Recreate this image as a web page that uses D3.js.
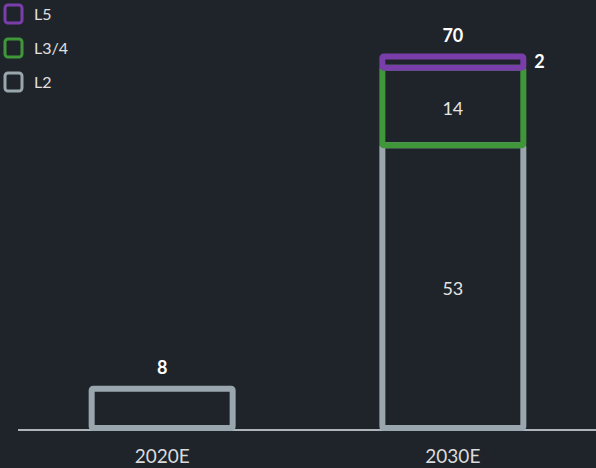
<!DOCTYPE html>
<html>
<head>
<meta charset="utf-8">
<script src="https://cdn.jsdelivr.net/npm/d3@7"></script>
<style>
	html, body { margin: 0; padding: 0; background: #1f242a; }
	svg { display: block; }
</style>
</head>
<body>
<svg id="chartSvg" width="596" height="468"></svg>
<script>
//data
var years = ['2020E', '2030E'];
var seriesNames = ['L2', 'L3/4', 'L5'];
var l2Values = [7.4, 53.2];
var l34Values = [0, 14.6];
var l5Values = [0, 2.1];
var totalLabels = ['8', '70'];
var l2Labels = ['', '53'];
var l34Labels = ['', '14'];
var l5Labels = ['', '2'];

var colors = { 'L2': '#9aa6ad', 'L3/4': '#3f973a', 'L5': '#7a3eaa' };
var fontFam = 'Lato, "Open Sans", sans-serif';

document.addEventListener('DOMContentLoaded', function() {
	var svg = d3.select('#chartSvg');

	//scales
	var x = d3.scaleBand()
		.domain(years)
		.range([19, 596])
		.paddingInner(0.515)
		.paddingOuter(0.25);
	var y = d3.scaleLinear()
		.domain([0, 70])
		.range([428, 56]);

	//stack the series
	var rows = years.map((yr, i) => ({ year: yr, 'L2': l2Values[i], 'L3/4': l34Values[i], 'L5': l5Values[i] }));
	var stacked = d3.stack().keys(seriesNames)(rows);

	//axis line + tick labels
	svg.append('line')
		.attr('x1', 18).attr('x2', 596)
		.attr('y1', 430).attr('y2', 430)
		.style('stroke', '#aeb5ba')
		.style('stroke-width', 2);

	var xAxis = svg.append('g')
		.attr('transform', 'translate(0,430)')
		.call(d3.axisBottom(x).tickSize(0).tickPadding(20));
	xAxis.select('.domain').remove();
	xAxis.selectAll('text')
		.style('fill', '#dadbdc')
		.style('font-family', fontFam)
		.style('font-size', '19px');

	//bars
	stacked.forEach(function(layer) {
		svg.selectAll('.seg-' + layer.index)
			.data(layer.filter(d => d[1] - d[0] > 0))
			.join('rect')
			.attr('class', 'seg-' + layer.index)
			.attr('x', d => x(d.data.year))
			.attr('width', x.bandwidth())
			.attr('y', d => y(d[1]))
			.attr('height', d => y(d[0]) - y(d[1]))
			.attr('rx', 1.5)
			.style('fill', 'none')
			.style('stroke', colors[layer.key])
			.style('stroke-width', 6);
	});

	//segment labels inside
	var inner = [
		{ layer: stacked[0], labels: l2Labels },
		{ layer: stacked[1], labels: l34Labels }
	];
	inner.forEach(function(s) {
		svg.selectAll(null)
			.data(s.layer.map((d, i) => ({ d: d, t: s.labels[i] })).filter(o => o.t !== ''))
			.join('text')
			.attr('x', o => x(o.d.data.year) + x.bandwidth() / 2)
			.attr('y', o => (y(o.d[0]) + y(o.d[1])) / 2 + 2)
			.attr('dy', '0.35em')
			.style('text-anchor', 'middle')
			.style('fill', '#e4e4e4')
			.style('font-family', fontFam)
			.style('font-size', '18px')
			.text(o => o.t);
	});

	//L5 label to the right
	svg.selectAll(null)
		.data(stacked[2].map((d, i) => ({ d: d, t: l5Labels[i] })).filter(o => o.t !== ''))
		.join('text')
		.attr('x', o => x(o.d.data.year) + x.bandwidth() + 11)
		.attr('y', o => (y(o.d[0]) + y(o.d[1])) / 2)
		.attr('dy', '0.35em')
		.style('fill', '#ffffff')
		.style('font-family', fontFam)
		.style('font-weight', 'bold')
		.style('font-size', '18px')
		.text(o => o.t);

	//totals on top
	var top = stacked[stacked.length - 1];
	svg.selectAll(null)
		.data(top.map((d, i) => ({ d: d, t: totalLabels[i] })))
		.join('text')
		.attr('x', o => x(o.d.data.year) + x.bandwidth() / 2)
		.attr('y', o => y(o.d[1]) - 15)
		.style('text-anchor', 'middle')
		.style('fill', '#ffffff')
		.style('font-family', fontFam)
		.style('font-weight', 'bold')
		.style('font-size', '18px')
		.text(o => o.t);

	//legend
	var legend = svg.append('g').attr('transform', 'translate(5,5)');
	var legendOrder = seriesNames.slice().reverse();
	var item = legend.selectAll('.item')
		.data(legendOrder)
		.join('g')
		.attr('class', 'item')
		.attr('transform', (d, i) => `translate(0,${i * 34})`);
	item.append('rect')
		.attr('width', 17).attr('height', 18)
		.attr('rx', 3)
		.style('fill', 'none')
		.style('stroke', d => colors[d])
		.style('stroke-width', 3);
	item.append('text')
		.attr('x', 29)
		.attr('y', 9)
		.attr('dy', '0.35em')
		.style('fill', '#e0e0e0')
		.style('font-family', fontFam)
		.style('font-size', '16px')
		.text(d => d);
});
</script>
</body>
</html>
